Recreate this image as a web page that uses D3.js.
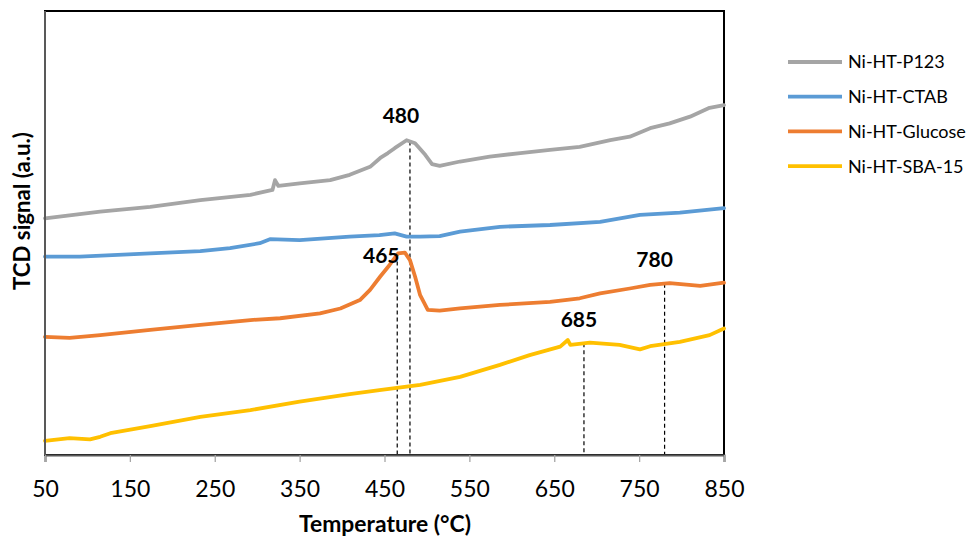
<!DOCTYPE html>
<html>
<head>
<meta charset="utf-8">
<script src="https://cdn.jsdelivr.net/npm/d3@7"></script>
<style>
  html, body { margin: 0; padding: 0; background: #fff; }
  svg { display: block; font-family: Lato, "Open Sans", sans-serif; }
</style>
</head>
<body>
<svg id="chart" width="974" height="538"></svg>
<script>
// H2-TPR profiles: temperature (°C) vs. TCD signal (arbitrary units, offset traces)
const xTicks = [50, 150, 250, 350, 450, 550, 650, 750, 850];

const p123Temp = [50, 115, 174, 233, 292, 318, 321, 325, 350, 386, 409, 433, 445, 454, 462, 476, 486, 498, 506, 515, 539, 574, 610, 645, 680, 716, 739, 763, 786, 810, 833, 850];
const p123Signal = [53.3, 54.8, 55.9, 57.4, 58.6, 59.7, 61.9, 60.6, 61.2, 61.9, 63.1, 64.9, 66.9, 68.0, 69.1, 70.9, 70.2, 67.6, 65.5, 65.1, 66.1, 67.2, 68.0, 68.7, 69.4, 70.9, 71.7, 73.6, 74.7, 76.2, 78.2, 78.8];

const ctabTemp = [50, 91, 174, 233, 268, 303, 315, 350, 409, 444, 462, 476, 492, 515, 539, 586, 645, 704, 751, 798, 850];
const ctabSignal = [44.7, 44.7, 45.4, 45.9, 46.6, 47.7, 48.6, 48.4, 49.2, 49.5, 49.9, 49.2, 49.2, 49.3, 50.3, 51.4, 51.8, 52.5, 54.1, 54.6, 55.6];

const glucoseTemp = [50, 79, 115, 174, 233, 292, 327, 374, 398, 421, 433, 445, 456, 466, 474, 480, 486, 492, 501, 515, 539, 586, 645, 680, 704, 739, 763, 786, 822, 850];
const glucoseSignal = [26.6, 26.4, 27.0, 28.2, 29.3, 30.4, 30.8, 31.9, 33.0, 34.9, 37.2, 40.2, 42.8, 45.4, 45.6, 43.9, 40.2, 36.0, 32.7, 32.5, 33.0, 33.8, 34.5, 35.3, 36.4, 37.5, 38.3, 38.7, 38.1, 38.8];

const sbaTemp = [50, 79, 103, 115, 127, 174, 233, 292, 350, 409, 444, 492, 539, 586, 621, 657, 666, 669, 692, 727, 751, 763, 798, 833, 850];
const sbaSignal = [3.2, 3.8, 3.5, 4.1, 4.9, 6.5, 8.6, 10.1, 12.0, 13.7, 14.6, 15.8, 17.6, 20.3, 22.5, 24.4, 25.9, 24.8, 25.3, 24.8, 23.8, 24.5, 25.5, 27.0, 28.5];

const seriesNames = ["Ni-HT-P123", "Ni-HT-CTAB", "Ni-HT-Glucose", "Ni-HT-SBA-15"];
const seriesColors = ["#A5A5A5", "#5B9BD5", "#ED7D31", "#FFC000"];

// Reduction peak maxima marked with drop lines
const peakTemps = [480, 465, 685, 780];
const peakSeries = ["Ni-HT-P123", "Ni-HT-Glucose", "Ni-HT-SBA-15", "Ni-HT-Glucose"];

const series = [
  { name: seriesNames[0], color: seriesColors[0], values: p123Temp.map((t, i) => ({ t, v: p123Signal[i] })) },
  { name: seriesNames[1], color: seriesColors[1], values: ctabTemp.map((t, i) => ({ t, v: ctabSignal[i] })) },
  { name: seriesNames[2], color: seriesColors[2], values: glucoseTemp.map((t, i) => ({ t, v: glucoseSignal[i] })) },
  { name: seriesNames[3], color: seriesColors[3], values: sbaTemp.map((t, i) => ({ t, v: sbaSignal[i] })) }
];

const svg = d3.select("#chart");
const plot = { left: 45, right: 724, top: 11, bottom: 455 };

const x = d3.scaleLinear().domain([50, 850]).range([plot.left, plot.right]);
const y = d3.scaleLinear().domain([0, 100]).range([plot.bottom, plot.top]);

// Interpolated signal of a series at a given temperature
function signalAt(s, t) {
  const vals = s.values;
  const i = d3.bisector(d => d.t).left(vals, t);
  if (i <= 0) return vals[0].v;
  if (i >= vals.length) return vals[vals.length - 1].v;
  const a = vals[i - 1], b = vals[i];
  return a.v + (b.v - a.v) * (t - a.t) / (b.t - a.t);
}

// Frame
svg.append("rect")
  .attr("x", plot.left).attr("y", plot.top)
  .attr("width", plot.right - plot.left).attr("height", plot.bottom - plot.top)
  .attr("fill", "none").attr("stroke", "#000").attr("stroke-width", 2);

// Drop lines
const peaks = peakTemps.map((t, i) => {
  const s = series.find(d => d.name === peakSeries[i]);
  return { t, v: signalAt(s, t) };
});
svg.append("g").selectAll("line").data(peaks).join("line")
  .attr("x1", d => x(d.t)).attr("x2", d => x(d.t))
  .attr("y1", d => y(d.v)).attr("y2", plot.bottom)
  .attr("stroke", "#000").attr("stroke-width", 1.2)
  .attr("stroke-dasharray", "4,3");

// Curves
const line = d3.line().x(d => x(d.t)).y(d => y(d.v));
svg.append("g").selectAll("path").data(series).join("path")
  .attr("d", d => line(d.values))
  .attr("fill", "none")
  .attr("stroke", d => d.color)
  .attr("stroke-width", 3.8)
  .attr("stroke-linejoin", "round")
  .attr("stroke-linecap", "round");

// Peak labels
const labelShift = [{ dx: -9, dy: -18 }, { dx: -16, dy: 8 }, { dx: -5, dy: -16 }, { dx: -10, dy: -17 }];
svg.append("g").selectAll("text").data(peaks).join("text")
  .attr("x", (d, i) => x(d.t) + labelShift[i].dx)
  .attr("y", (d, i) => y(d.v) + labelShift[i].dy)
  .attr("text-anchor", "middle")
  .attr("font-size", 21).attr("font-weight", "bold").attr("fill", "#000")
  .text(d => d.t);

// X axis
const xAxis = svg.append("g")
  .attr("transform", `translate(0,${plot.bottom})`)
  .call(d3.axisBottom(x).tickValues(xTicks).tickSize(7).tickFormat(d3.format("d")));
xAxis.select(".domain").attr("stroke", "#595959").attr("stroke-width", 2);
xAxis.selectAll(".tick line").attr("stroke", "#A6A6A6").attr("stroke-width", 1.3);
xAxis.selectAll(".tick text")
  .attr("y", 42).attr("dy", 0)
  .attr("font-family", "Lato, sans-serif")
  .attr("font-size", 23).attr("fill", "#000");

// Left axis line
svg.append("line")
  .attr("x1", plot.left).attr("x2", plot.left)
  .attr("y1", plot.top).attr("y2", plot.bottom)
  .attr("stroke", "#595959").attr("stroke-width", 2);

// Fit a text element to a target width by scaling its font size
function fitWidth(sel, width) {
  const node = sel.node();
  const fs = parseFloat(sel.attr("font-size"));
  const w = node.getComputedTextLength();
  if (w > 0) sel.attr("font-size", fs * width / w);
}

// Axis titles
const xt = svg.append("text")
  .attr("x", 385).attr("y", 532)
  .attr("text-anchor", "middle")
  .attr("font-size", 19).attr("font-weight", "bold").attr("fill", "#000")
  .text("Temperature (°C)");
fitWidth(xt, 172);

const yt = svg.append("text")
  .attr("transform", "translate(30,211) rotate(-90)")
  .attr("text-anchor", "middle")
  .attr("font-size", 18).attr("font-weight", "bold").attr("fill", "#000")
  .text("TCD signal (a.u.)");
fitWidth(yt, 158);

// Legend
const legend = svg.append("g").attr("transform", "translate(788,62)");
const items = legend.selectAll("g").data(series).join("g")
  .attr("transform", (d, i) => `translate(0,${i * 34.7})`);
items.append("line")
  .attr("x1", 0).attr("x2", 54).attr("y1", 0).attr("y2", 0)
  .attr("stroke", d => d.color).attr("stroke-width", 3.8);
items.append("text")
  .attr("x", 60).attr("y", 0).attr("dy", "0.36em")
  .attr("font-size", 18).attr("fill", "#000")
  .text(d => d.name);
</script>
</body>
</html>
